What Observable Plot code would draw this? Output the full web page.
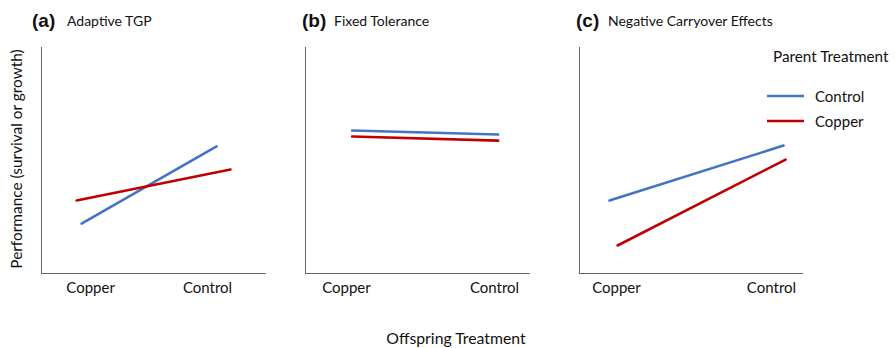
<!DOCTYPE html>
<html>
<head>
<meta charset="utf-8">
<script src="https://cdn.jsdelivr.net/npm/d3@7"></script>
<script src="https://cdn.jsdelivr.net/npm/@observablehq/plot@0.6"></script>
<style>
  body { margin: 0; background: #fff; }
  #wrap { position: relative; width: 895px; height: 348px; font-family: Lato, "Open Sans", sans-serif; color: #111; }
  #wrap svg { position: absolute; top: 0; }
  .t { position: absolute; white-space: nowrap; line-height: 1; }
  .tag { font-family: "Liberation Sans", Arial, sans-serif; font-weight: bold; font-size: 19px; }
  .name { font-size: 14px; }
</style>
</head>
<body>
<div id="wrap"></div>
<script>
// ---- data ----
const panels = ["a", "b", "c"];
const panelTags = ["(a)", "(b)", "(c)"];
const panelTitles = ["Adaptive TGP", "Fixed Tolerance", "Negative Carryover Effects"];
const offspringLabels = ["Copper", "Control"];
// position of the offspring-treatment labels along each panel's axis (0..1)
const copperLabelX = [0.218, 0.182, 0.165];
const controlLabelX = [0.738, 0.84, 0.857];
const parentTreatments = ["Control", "Copper"];
const parentColors = ["#4472C4", "#C00000"];
// Parent = Control (blue)
const ctrlParentX0 = [0.178, 0.207, 0.134];
const ctrlParentX1 = [0.778, 0.856, 0.911];
const ctrlParentY0 = [22.1, 63.3, 32.3];
const ctrlParentY1 = [56.2, 61.5, 56.6];
// Parent = Copper (red)
const copParentX0 = [0.156, 0.207, 0.170];
const copParentX1 = [0.840, 0.856, 0.920];
const copParentY0 = [32.3, 60.6, 12.4];
const copParentY1 = [46.0, 58.8, 50.4];

// ---- layout ----
const geom = [
  {left: 0, width: 290, ml: 41, mr: 24},
  {left: 290, width: 270, ml: 15, mr: 30},
  {left: 560, width: 335, ml: 19, mr: 92}
];
const wrap = document.getElementById("wrap");

panels.forEach((p, i) => {
  const rows = [
    {parent: "Control", x: ctrlParentX0[i], y: ctrlParentY0[i]},
    {parent: "Control", x: ctrlParentX1[i], y: ctrlParentY1[i]},
    {parent: "Copper", x: copParentX0[i], y: copParentY0[i]},
    {parent: "Copper", x: copParentX1[i], y: copParentY1[i]}
  ];
  const labs = [
    {x: copperLabelX[i], text: offspringLabels[0]},
    {x: controlLabelX[i], text: offspringLabels[1]}
  ];
  const g = geom[i];
  const chart = Plot.plot({
    width: g.width,
    height: 348,
    marginLeft: g.ml,
    marginRight: g.mr,
    marginTop: 47,
    marginBottom: 75,
    style: {fontFamily: "Lato, 'Open Sans', sans-serif", background: "transparent"},
    x: {domain: [0, 1], axis: null},
    y: {domain: [0, 100], axis: null},
    color: {domain: parentTreatments, range: parentColors},
    marks: [
      Plot.ruleX([0], {stroke: "#666", strokeWidth: 1}),
      Plot.ruleY([0], {stroke: "#666", strokeWidth: 1}),
      Plot.line(rows, {x: "x", y: "y", z: "parent", stroke: "parent", strokeWidth: 2.6}),
      Plot.text(labs, {x: "x", text: "text", frameAnchor: "bottom", dy: 15, lineAnchor: "middle", fontSize: 15, fill: "#111"})
    ]
  });
  chart.style.left = g.left + "px";
  wrap.appendChild(chart);
});

function addText(cls, txt, left, top, extra) {
  const d = document.createElement("div");
  d.className = "t " + cls;
  d.textContent = txt;
  d.style.left = left + "px";
  d.style.top = top + "px";
  if (extra) Object.assign(d.style, extra);
  wrap.appendChild(d);
  return d;
}
const tagLeft = [32, 302, 576];
const nameLeft = [67, 334, 608];
panels.forEach((p, i) => {
  addText("tag", panelTags[i], tagLeft[i], 11);
  addText("name", panelTitles[i], nameLeft[i], 14);
});

// y-axis title
addText("", "Performance (survival or growth)", 17, 159,
  {fontSize: "15.4px", transform: "translate(-50%, -50%) rotate(-90deg)"});
// x-axis title
addText("", "Offspring Treatment", 456, 338,
  {fontSize: "15.8px", transform: "translate(-50%, -50%)"});

// legend
addText("", "Parent Treatment", 773, 49, {fontSize: "15.3px"});
const NS = "http://www.w3.org/2000/svg";
parentTreatments.forEach((t, k) => {
  const y = [96, 121][k];
  const s = document.createElementNS(NS, "svg");
  s.setAttribute("width", 40); s.setAttribute("height", 6);
  s.style.left = "766px"; s.style.top = (y - 3) + "px";
  const l = document.createElementNS(NS, "line");
  l.setAttribute("x1", 1); l.setAttribute("x2", 38); l.setAttribute("y1", 3); l.setAttribute("y2", 3);
  l.setAttribute("stroke", parentColors[k]); l.setAttribute("stroke-width", 2.6);
  s.appendChild(l);
  wrap.appendChild(s);
  addText("", t, 815, y, {fontSize: "15px", transform: "translateY(-50%)"});
});
</script>
</body>
</html>
